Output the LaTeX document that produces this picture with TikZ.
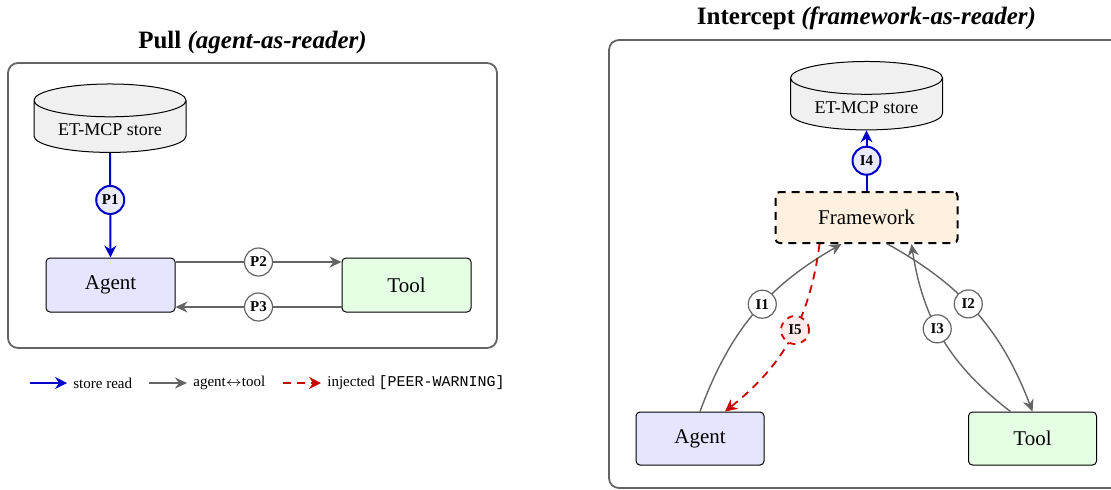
\documentclass[tikz,border=0pt]{standalone}
\usepackage{fontspec}
\setmainfont{Liberation Serif}
\setmonofont{Liberation Mono}
\usetikzlibrary{positioning,shapes.geometric,arrows.meta}

\definecolor{readblue}{RGB}{0,0,200}
\definecolor{flowgray}{RGB}{100,100,100}
\definecolor{injred}{RGB}{200,0,0}

\begin{document}
\begin{tikzpicture}[x=0.5pt,y=0.5pt,
        box/.style={draw,rectangle,rounded corners=2pt,line width=0.5pt,minimum width=64.5pt,minimum height=27pt,font=\fontsize{10.5}{12}\selectfont},
        store/.style={draw,cylinder,shape border rotate=90,aspect=0.28,fill=black!6,minimum width=76pt,minimum height=31pt,font=\fontsize{9}{11}\selectfont,line width=0.5pt},
        panel/.style={draw=flowgray,line width=0.9pt,rounded corners=5pt},
        title/.style={font=\fontsize{12.5}{15}\selectfont\bfseries},
        lbl/.style={circle,draw=flowgray,fill=white,line width=0.6pt,inner sep=0pt,minimum size=14pt,font=\fontsize{7.5}{8}\selectfont\bfseries,text=black},
        readlbl/.style={draw=readblue,fill=blue!8,line width=1pt},
        injlbl/.style={draw=injred,fill=red!8,line width=0.9pt,dashed},
        read/.style={draw=readblue,line width=1pt,-{Stealth[length=6pt,width=6pt,inset=2pt]}},
        flow/.style={draw=flowgray,line width=0.7pt,-{Stealth[length=6pt,width=5.5pt,inset=2pt]}},
        inject/.style={draw=injred,line width=0.9pt,dash pattern=on 4pt off 3pt,-{Stealth[length=6pt,width=6pt,inset=2pt]}},
        legend/.style={anchor=west,inner sep=3pt,font=\fontsize{7.5}{9}\selectfont}
    ]
    \useasboundingbox (0,0) rectangle (1111,-489);

    % pull side
    \draw[panel] (8,-63) rectangle (497,-348);
    \node[title] (pulltitle) at (252.5,-42) {Pull \textit{(agent-as-reader)}};
    \node[store] (store) at (110,-130) {ET-MCP store};
    \node[box,fill=blue!10] (agent) at (110.5,-285) {Agent};
    \node[box,fill=green!10] (tool) at (406.5,-285) {Tool};

    \draw[read] (store) -- node[lbl,readlbl,pos=0.45] {P1} (agent);
    \draw[flow] ([yshift=11.5pt]agent.east) -- node[lbl] {P2} ([yshift=11.5pt]tool.west);
    \draw[flow] ([yshift=-11pt]tool.west) -- node[lbl] {P3} ([yshift=-11pt]agent.west -| agent.east);

    % legend
    \coordinate (lgread) at (30,-383);
    \node[legend] (lgreadtxt) at (67,-383) {store read};
    \draw[read,line width=1.2pt] (lgread) -- (lgreadtxt.west);
    \coordinate (lgflow) at (149,-383);
    \node[legend] (lgflowtxt) at (187,-383) {agent$\leftrightarrow$tool};
    \draw[flow,line width=1.2pt] (lgflow) -- (lgflowtxt.west);
    \coordinate (lginj) at (283,-383);
    \node[legend] (lginjtxt) at (321,-383) {injected \texttt{[PEER-WARNING]}};
    \draw[inject,line width=1.1pt] (lginj) -- (lginjtxt.west);

    % intercept side
    \draw[panel] (609,-40) rectangle (1124,-488);
    \node[title] (inttitle) at (866.5,-18) {Intercept \textit{(framework-as-reader)}};
    \node[store] (store2) at (866.5,-107.5) {ET-MCP store};
    \node[box,fill=orange!12,dashed,line width=1pt,dash pattern=on 4pt off 3pt,minimum width=91pt,minimum height=25.5pt] (fw) at (866.5,-217.5) {Framework};
    \node[box,fill=blue!10,minimum width=64pt,minimum height=26.5pt] (agent2) at (700,-438.5) {Agent};
    \node[box,fill=green!10,minimum width=64pt,minimum height=26.5pt] (tool2) at (1032.5,-438.5) {Tool};

    \draw[read] (fw) -- node[lbl,readlbl] {I4} (store2);
    \draw[flow] (agent2.north) to[bend left=20] node[lbl,pos=0.56] {I1} ([xshift=-12.5pt]fw.south);
    \draw[flow] ([xshift=10.5pt]fw.south) to[bend left=20] node[lbl,pos=0.44] {I2} (tool2.north);
    \draw[flow] ([xshift=-11pt]tool2.north) to[bend left=22] node[lbl,pos=0.56] {I3} ([xshift=22.5pt]fw.south);
    \draw[inject] ([xshift=-23.5pt]fw.south) to[bend left=22] node[lbl,injlbl,pos=0.45] {I5} ([xshift=12.5pt]agent2.north);
\end{tikzpicture}
\end{document}
